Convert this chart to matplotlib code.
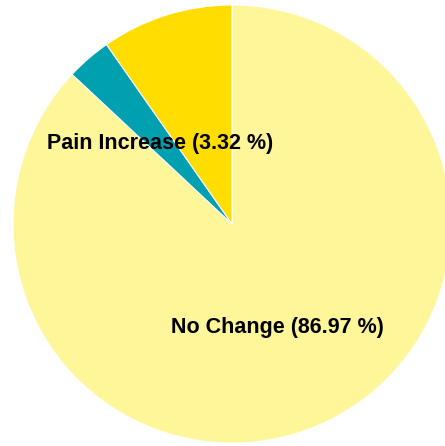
import matplotlib.pyplot as plt

labels = ['No Change', 'Pain Increase', 'Pain Decrease']
shares = [86.97, 3.32, 9.71]
colors = ['#FFF599', '#00A0B0', '#FFDD00']
shown = [True, True, False]

W, H = 445, 446
fig = plt.figure(figsize=(W / 100, H / 100), dpi=100)
ax = fig.add_axes([0, 0, 1, 1])

# pixel-like data coords, y up
cx, cy, r = 232, H - 224, 219
wedges, _ = ax.pie(shares, colors=colors, startangle=90, counterclock=False,
                   center=(cx, cy), radius=r,
                   wedgeprops=dict(edgecolor='white', linewidth=0.8))
ax.set_xlim(0, W)
ax.set_ylim(0, H)
ax.set_aspect('equal')
ax.axis('off')

label_pos = [(277, H - 327), (160, H - 143), None]
for lab, v, pos, s in zip(labels, shares, label_pos, shown):
    if not s:
        continue
    ax.text(pos[0], pos[1], f'{lab} ({v:.2f} %)', ha='center', va='center',
            fontsize=15.5, fontweight='bold', family='Liberation Sans', color='black')

fig.savefig('out.png', dpi=100)
